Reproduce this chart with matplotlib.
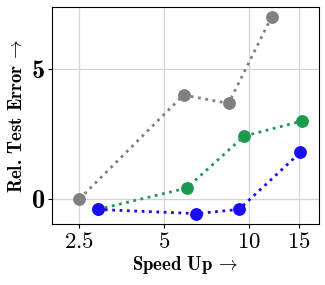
import matplotlib
matplotlib.use("Agg")
import matplotlib.pyplot as plt
from matplotlib.ticker import NullLocator

plt.rcParams['mathtext.fontset'] = 'cm'
plt.rcParams['font.family'] = 'serif'
plt.rcParams['font.serif'] = ['DejaVu Serif']
plt.rcParams['axes.unicode_minus'] = False

# data (x = speed up, y = relative test error)
gray_x = [2.5, 5.85, 8.45, 12.0]
gray_y = [0.0, 4.0, 3.68, 7.0]
green_x = [2.9, 6.0, 9.6, 15.4]
green_y = [-0.4, 0.42, 2.42, 3.0]
blue_x = [2.9, 6.5, 9.2, 15.2]
blue_y = [-0.4, -0.56, -0.4, 1.8]

xticks = [2.5, 5, 10, 15]
xticklabels = ['2.5', '5', '10', '15']
yticks = [0, 5]
yticklabels = ['0', '5']

fig = plt.figure(figsize=(3.25, 2.85), dpi=100)
ax = fig.add_axes([0.16, 0.214, 0.822, 0.761])

ax.plot(gray_x, gray_y, ':', color='#808080', lw=2.0, marker='o', ms=8.2)
ax.plot(green_x, green_y, ':', color='#1d9a52', lw=2.0, marker='o', ms=8.2)
ax.plot(blue_x, blue_y, ':', color='#1a0cf5', lw=2.0, marker='o', ms=8.2)

ax.set_xscale('log')
ax.set_xlim(2.0, 17.7)
ax.set_ylim(-0.96, 7.38)
ax.set_xticks(xticks)
ax.set_xticklabels([r'$%s$' % t for t in xticklabels], fontsize=16.5)
ax.xaxis.set_minor_locator(NullLocator())
ax.set_yticks(yticks)
ax.set_yticklabels(yticklabels, fontsize=19, family='cmb10')
ax.grid(True, color='#d4d4d4', lw=0.9)
ax.set_axisbelow(True)
ax.tick_params(length=3, pad=2)

ax.set_xlabel(r'Speed Up $\!\rightarrow$', fontsize=13.5, family='cmb10', labelpad=1)
ax.set_ylabel(r'Rel. Test Error $\!\rightarrow$', fontsize=13.5, family='cmb10', labelpad=4)

fig.savefig('out.png', dpi=100)
